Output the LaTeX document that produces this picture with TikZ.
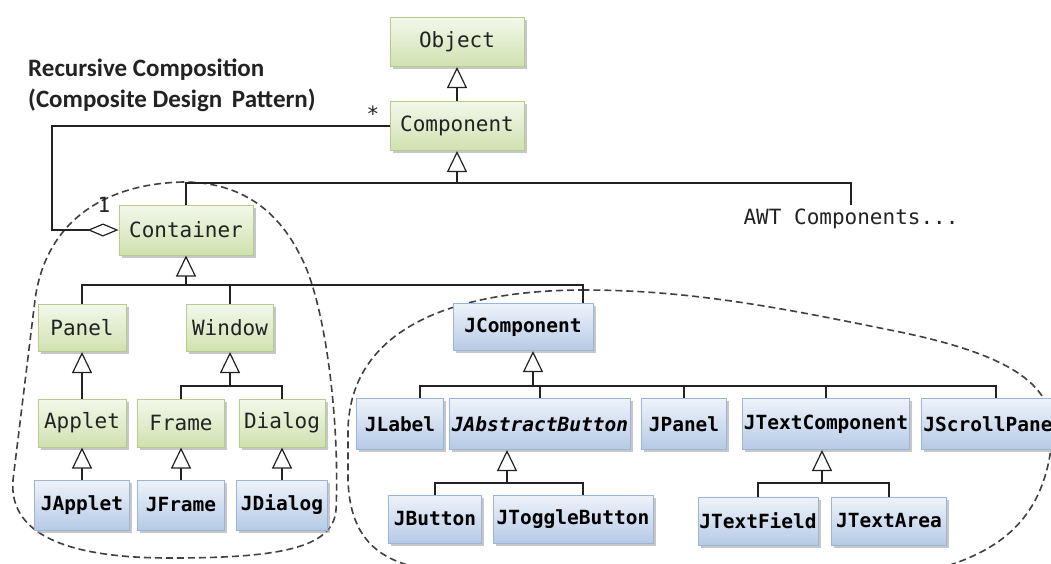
\documentclass[tikz,border=0pt]{standalone}
\usepackage{fontspec}
\setmonofont{DejaVu Sans Mono}
\newfontfamily\titlefont{Carlito}
\usetikzlibrary{arrows.meta,shadows}
\definecolor{gtop}{HTML}{F3F8EA}
\definecolor{gbot}{HTML}{D0E1B0}
\definecolor{gline}{HTML}{B5CC8E}
\definecolor{btop}{HTML}{EEF3FA}
\definecolor{bbot}{HTML}{B6CAE6}
\definecolor{bline}{HTML}{9CB4D8}
\definecolor{ink}{HTML}{222222}
\tikzset{
 umlbox/.style={rectangle, inner sep=1pt, line width=1pt,
   drop shadow={shadow xshift=2.5pt, shadow yshift=-2.5pt, fill=black!40, opacity=0.55}},
 gbox/.style={umlbox, draw=gline, top color=gtop, bottom color=gbot,
   font=\ttfamily\fontsize{21}{25}\selectfont, text=ink},
 bbox/.style={umlbox, draw=bline, top color=btop, bottom color=bbot,
   font=\ttfamily\bfseries\fontsize{19.5}{23}\selectfont, text=black},
 conn/.style={line width=1.2pt, draw=ink},
 inh/.style={conn, -{Triangle[open, length=21pt, width=20pt]}},
 agg/.style={conn, -{Diamond[open, length=31pt, width=13pt]}},
 grp/.style={line width=1.6pt, draw=black!75, dash pattern=on 7pt off 4pt},
 lbl/.style={font=\ttfamily\fontsize{21}{25}\selectfont, text=ink, inner sep=0pt},
 ttl/.style={font=\titlefont\bfseries\fontsize{25}{29}\selectfont, text=ink, inner sep=0pt, anchor=base west},
}
\begin{document}
\begin{tikzpicture}[x=1pt,y=-1pt]
\useasboundingbox (0,0) rectangle (1051,563);
\fill[white] (0,0) rectangle (1051,563);
\clip (0,0) rectangle (1051,563);

% dashed group outlines
\draw[grp] (183,182) .. controls (100,184) and (45,225) .. (35,300)
  -- (13,480)
  .. controls (8,540) and (80,558) .. (170,558)
  .. controls (280,558) and (333,548) .. (336,510)
  .. controls (340,420) and (325,300) .. (300,255)
  .. controls (275,205) and (235,182) .. (183,182) -- cycle;
\draw[grp] (585,290) .. controls (450,290) and (350,330) .. (348,430)
  -- (348,480)
  .. controls (350,540) and (380,562) .. (430,570)
  -- (950,565)
  .. controls (1010,545) and (1045,510) .. (1052,440)
  .. controls (1058,385) and (1010,355) .. (900,332)
  .. controls (800,312) and (700,290) .. (585,290) -- cycle;

% title
\node[ttl] (t1) at (28,76) {Recursive Composition};
\node[ttl] (t2) at (28,107) {(Composite Design\hspace{4pt} Pattern)};

% AWT nodes
\node[gbox, minimum width=134pt, minimum height=49pt] (object) at (457,42) {Object};
\node[gbox, minimum width=134pt, minimum height=49pt] (component) at (457,126) {Component};
\node[gbox, minimum width=134pt, minimum height=50pt] (container) at (186,230) {Container};
\node[gbox, minimum width=88pt, minimum height=47pt] (panel) at (82,328) {Panel};
\node[gbox, minimum width=87pt, minimum height=47pt] (window) at (230,328) {Window};
\node[gbox, minimum width=88pt, minimum height=48pt] (applet) at (82,423) {Applet};
\node[gbox, minimum width=87pt, minimum height=48pt] (frame) at (181,423) {Frame};
\node[gbox, minimum width=86pt, minimum height=48pt] (dialog) at (282,423) {Dialog};

% Swing nodes
\node[bbox, minimum width=95pt, minimum height=50pt] (japplet) at (82,505) {JApplet};
\node[bbox, minimum width=87pt, minimum height=50pt] (jframe) at (181,505) {JFrame};
\node[bbox, minimum width=91pt, minimum height=50pt] (jdialog) at (282,505) {JDialog};
\node[bbox, minimum width=140pt, minimum height=47pt] (jcomp) at (523,327) {JComponent};
\node[bbox, minimum width=87pt, minimum height=51pt] (jlabel) at (400,424) {JLabel};
\node[bbox, minimum width=181pt, minimum height=51pt, font=\ttfamily\bfseries\itshape\fontsize{19.5}{23}\selectfont] (jab) at (540,424) {JAbstractButton};
\node[bbox, minimum width=85pt, minimum height=51pt] (jpanel) at (684,424) {JPanel};
\node[bbox, minimum width=167pt, minimum height=51pt] (jtc) at (826,424) {JTextComponent};
\node[bbox, minimum width=134pt, minimum height=51pt] (jsp) at (988,424) {JScrollPane};
\node[bbox, minimum width=93pt, minimum height=48pt] (jbutton) at (435,519) {JButton};
\node[bbox, minimum width=160pt, minimum height=48pt] (jtoggle) at (573,519) {JToggleButton};
\node[bbox, minimum width=120pt, minimum height=48pt] (jtf) at (758,521) {JTextField};
\node[bbox, minimum width=115pt, minimum height=48pt] (jta) at (889,521) {JTextArea};

% labels
\node[lbl, anchor=north] (awt) at (851,209) {AWT Components...};
\node[lbl, anchor=base] (star) at (373,121) {*};
\node[lbl, anchor=base] (one) at (104,212) {1};

% connectors
\draw[inh] (component.north) -- (object.south);
\coordinate (b1) at (457,183);
\draw[conn] (container.north) |- (b1) -| ([yshift=4pt]awt.north);
\draw[inh] (b1) -- (component.south);
\coordinate (aggc) at (52,126);
\draw[agg] (component.west) -- (aggc) |- (container.west);

\coordinate (b2) at (186,285);
\coordinate (jtop) at ([xshift=60pt]jcomp.north);
\draw[conn] (panel.north) |- (b2) -| (jtop);
\draw[conn] (window.north) -- (window.north |- b2);
\draw[inh] (b2) -- (container.south);

\coordinate (b4) at (230,386);
\draw[conn] (frame.north) |- (b4) -| (dialog.north);
\draw[inh] (b4) -- (window.south);
\draw[inh] (applet.north) -- (panel.south);
\draw[inh] (japplet.north) -- (applet.south);
\draw[inh] (jframe.north) -- (frame.south);
\draw[inh] (jdialog.north) -- (dialog.south);

\coordinate (b3) at (533,386);
\draw[conn] ([xshift=20pt]jlabel.north) |- (b3) -| ([xshift=8pt]jsp.north);
\draw[conn] (jab.north) -- (jab.north |- b3);
\draw[conn] (jpanel.north) -- (jpanel.north |- b3);
\draw[conn] (jtc.north) -- (jtc.north |- b3);
\draw[inh] (b3) -- (b3 |- jcomp.south);

\coordinate (b5) at (507,483);
\draw[conn] (jbutton.north) |- (b5) -| ([xshift=10pt]jtoggle.north);
\draw[inh] (b5) -- (b5 |- jab.south);

\coordinate (b6) at (822,483);
\draw[conn] (jtf.north) |- (b6) -| (jta.north);
\draw[inh] (b6) -- (b6 |- jtc.south);
\end{tikzpicture}
\end{document}
